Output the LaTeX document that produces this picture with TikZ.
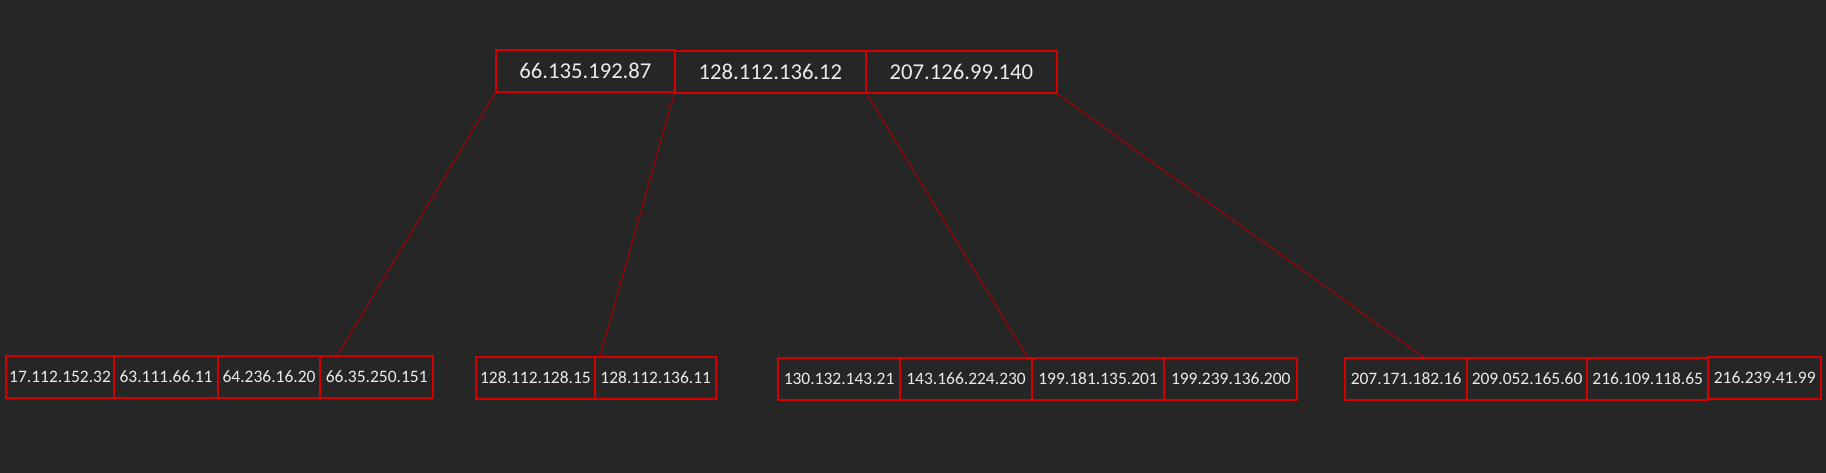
\documentclass[tikz,border=0pt]{standalone}
\usepackage{fontspec}
\setmainfont{Carlito}
\definecolor{bgdark}{HTML}{262626}
\definecolor{boxred}{HTML}{D40000}
\definecolor{linkred}{HTML}{A80000}
\begin{document}
\begin{tikzpicture}[x=0.75pt, y=-0.75pt,
      cell/.style={rectangle, draw=boxred, line width=1.6pt, text=white!92!black, inner sep=1pt, anchor=north west},
      rootcell/.style={cell, minimum height=31.5pt, font=\fontsize{17}{20}\selectfont},
      leafcell/.style={cell, minimum height=31.5pt, font=\fontsize{13.1}{16}\selectfont},
      link/.style={draw=linkred, line width=0.8pt}]
      \fill[bgdark] (0,0) rectangle (1826,473);
      \useasboundingbox (0,0) rectangle (1826,473);
      % root
      \node[rootcell, minimum width=134pt] (t1) at (495,49) {66.135.192.87};
      \node[rootcell, minimum width=143pt] (t2) at (674,50) {128.112.136.12};
      \node[rootcell, minimum width=143pt] (t3) at (865,50) {207.126.99.140};
      % leaves
      \node[leafcell, minimum width=81pt] (r1a) at (5,355) {17.112.152.32};
      \node[leafcell, minimum width=78pt] (r1b) at (113,355) {63.111.66.11};
      \node[leafcell, minimum width=76.5pt] (r1c) at (217,355) {64.236.16.20};
      \node[leafcell, minimum width=85pt] (r1d) at (319,355) {66.35.250.151};
      \node[leafcell, minimum width=89pt] (r2a) at (475,356) {128.112.128.15};
      \node[leafcell, minimum width=91pt] (r2b) at (594,356) {128.112.136.11};
      \node[leafcell, minimum width=91.5pt] (r3a) at (777,357) {130.132.143.21};
      \node[leafcell, minimum width=99pt] (r3b) at (899,357) {143.166.224.230};
      \node[leafcell, minimum width=99pt] (r3c) at (1031,357) {199.181.135.201};
      \node[leafcell, minimum width=100pt] (r3d) at (1163,357) {199.239.136.200};
      \node[leafcell, minimum width=91.5pt] (r4a) at (1344,357) {207.171.182.16};
      \node[leafcell, minimum width=90pt] (r4b) at (1466,357) {209.052.165.60};
      \node[leafcell, minimum width=91pt] (r4c) at (1586,357) {216.109.118.65};
      \node[leafcell, minimum width=85pt] (r4d) at (1707,356) {216.239.41.99};
      % links
      \draw[link] (t1.south west) -- ([xshift=14pt]r1d.north west);
      \draw[link] (t2.south west) -- ([xshift=4.5pt]r2b.north west);
      \draw[link] (t2.south east) -- ([xshift=-4.5pt]r3b.north east);
      \draw[link] (t3.south east) -- ([xshift=12.75pt]r4a.north);
    \end{tikzpicture}
\end{document}
